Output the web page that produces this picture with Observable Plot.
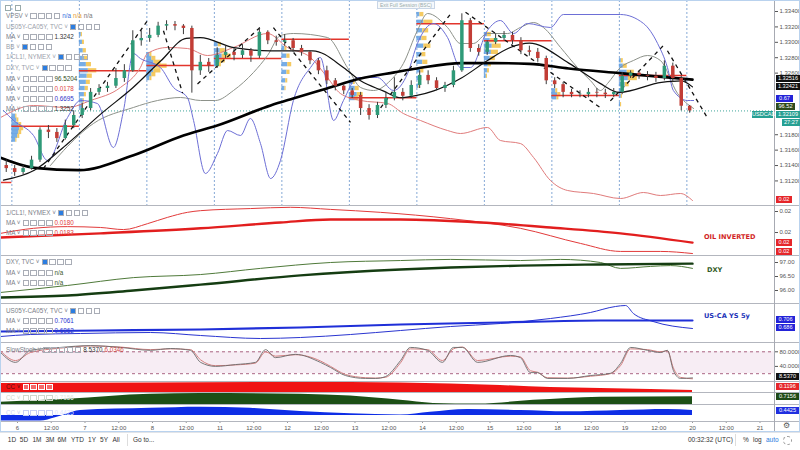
<!DOCTYPE html>
<html><head><meta charset="utf-8">
<script src="https://cdn.jsdelivr.net/npm/d3@7"></script>
<script src="https://cdn.jsdelivr.net/npm/@observablehq/plot@0.6"></script>
<style>
body{margin:0;background:#fff;}
#wrap{position:relative;width:800px;height:450px;overflow:hidden;background:#fff;font-family:"Liberation Sans",Arial,sans-serif;}
</style></head><body><div id="wrap"></div>
<script>
// ---------------- DATA ----------------
// x unit: trading hours since 6 Mar 00:00 UTC (weekends removed)
const dayHours = [0,24,48,72,96,120,144,168,192,216,240,264];
const dayLabels = ["6","7","8","11","12","13","14","15","18","19","20","21"];
const halfDayHours = [12,36,60,84,108,132,156,180,204,228,252];
const sessionHours = [-2,22,46,70,94,118,142,166,190,214,238];

// USDCAD 3-hour candles
const candleStartHour = -4, candleStepHours = 3;
const opens = [1.3140,1.3136,1.3131,1.3136,1.3147,1.3186,1.3183,1.3175,1.3192,1.3205,
 1.3214,1.3235,1.3240,1.3243,1.3253,1.3263,1.3302,1.3305,1.3309,1.3321,
 1.3323,1.3321,1.3318,1.3263,1.3274,1.3269,1.3283,1.3287,1.3283,1.3289,
 1.3282,1.3313,1.3302,1.3300,1.3302,1.3292,1.3287,1.3276,1.3263,1.3250,
 1.3243,1.3237,1.3231,1.3214,1.3205,1.3218,1.3227,1.3235,1.3230,1.3244,
 1.3257,1.3250,1.3240,1.3244,1.3263,1.3328,1.3292,1.3287,1.3300,1.3305,
 1.3309,1.3302,1.3289,1.3287,1.3279,1.3250,1.3245,1.3235,1.3232,1.3232,
 1.3235,1.3234,1.3232,1.3235,1.3256,1.3260,1.3257,1.3256,1.3253,1.3269,
 1.3253,1.3217];
const closes = [1.3136,1.3131,1.3136,1.3147,1.3186,1.3183,1.3175,1.3192,1.3205,1.3214,
 1.3235,1.3240,1.3243,1.3253,1.3263,1.3302,1.3305,1.3309,1.3321,1.3323,
 1.3321,1.3318,1.3263,1.3274,1.3269,1.3283,1.3287,1.3283,1.3289,1.3282,
 1.3313,1.3302,1.3300,1.3302,1.3292,1.3287,1.3276,1.3263,1.3250,1.3243,
 1.3237,1.3231,1.3214,1.3205,1.3218,1.3227,1.3235,1.3230,1.3244,1.3257,
 1.3250,1.3240,1.3244,1.3263,1.3328,1.3292,1.3287,1.3300,1.3305,1.3309,
 1.3302,1.3289,1.3287,1.3279,1.3250,1.3245,1.3235,1.3232,1.3232,1.3235,
 1.3234,1.3232,1.3235,1.3256,1.3260,1.3257,1.3256,1.3253,1.3269,1.3253,
 1.3217,1.32109];
const highs = [1.3147,1.3140,1.3140,1.3152,1.3189,1.3192,1.3188,1.3199,1.3211,1.3221,
 1.3240,1.3245,1.3248,1.3266,1.3271,1.3315,1.3315,1.3318,1.3326,1.3328,
 1.3327,1.3323,1.3321,1.3283,1.3279,1.3293,1.3295,1.3292,1.3297,1.3292,
 1.3319,1.3315,1.3308,1.3310,1.3305,1.3296,1.3289,1.3279,1.3269,1.3253,
 1.3245,1.3240,1.3235,1.3219,1.3222,1.3235,1.3254,1.3240,1.3250,1.3263,
 1.3263,1.3254,1.3248,1.3269,1.3337,1.3331,1.3297,1.3302,1.3311,1.3314,
 1.3313,1.3306,1.3295,1.3292,1.3282,1.3254,1.3248,1.3239,1.3237,1.3240,
 1.3240,1.3239,1.3240,1.3261,1.3263,1.3263,1.3262,1.3261,1.3276,1.3273,
 1.3256,1.3218];
const lows = [1.3131,1.3126,1.3128,1.3134,1.3144,1.3175,1.3170,1.3173,1.3188,1.3201,
 1.3211,1.3231,1.3235,1.3240,1.3248,1.3261,1.3295,1.3300,1.3306,1.3315,
 1.3315,1.3310,1.3234,1.3257,1.3261,1.3266,1.3279,1.3276,1.3279,1.3274,
 1.3279,1.3297,1.3295,1.3295,1.3287,1.3282,1.3271,1.3258,1.3245,1.3237,
 1.3232,1.3227,1.3205,1.3199,1.3201,1.3214,1.3224,1.3224,1.3227,1.3240,
 1.3245,1.3237,1.3235,1.3241,1.3261,1.3287,1.3282,1.3283,1.3297,1.3302,
 1.3297,1.3284,1.3282,1.3274,1.3245,1.3240,1.3228,1.3228,1.3228,1.3228,
 1.3228,1.3227,1.3228,1.3232,1.3253,1.3252,1.3250,1.3248,1.3250,1.3248,
 1.3211,1.3208];

// moving averages on price
const maSlowH = [-6,6,22,41,59,71,90,98,110,122,134,142,158,169,182,196,214,240];
const maSlowP = [1.3150,1.3137,1.3134,1.3153,1.3179,1.3192,1.3218,1.3227,1.3240,1.3253,1.3261,1.3266,1.3273,1.3273,1.3272,1.3266,1.3260,1.32516];
const maFastH = [-5,6,18,30,41,51,60,65,77,90,105,116,122,130,136,142,148,158,167,175,182,196,207,214,229,236,240];
const maFastP = [1.3121,1.3134,1.3169,1.3208,1.3241,1.3276,1.3305,1.3306,1.3293,1.3289,1.3289,1.3267,1.3250,1.3237,1.3228,1.3231,1.3237,1.3254,1.3276,1.3293,1.3299,1.3273,1.3247,1.3235,1.3248,1.3250,1.32421];

// volume profile per session
const vpSessionHours = [-2,22,46,70,94,118,142,166,190,214];
const vpPrices = [
 [1.3204,1.3199,1.3193,1.3188,1.3183,1.3178,1.3173],
 [1.3310,1.3300,1.3289,1.3279,1.3271,1.3263,1.3256,1.3248,1.3240,1.3232,1.3224,1.3217],
 [1.3284,1.3279,1.3274,1.3269,1.3263,1.3258,1.3253],
 [1.3297,1.3289,1.3282,1.3276,1.3271],
 [1.3292,1.3282,1.3271,1.3261,1.3250,1.3240],
 [1.3248,1.3240,1.3232,1.3227],
 [1.3336,1.3326,1.3315,1.3305,1.3295,1.3284,1.3274,1.3263,1.3253,1.3243],
 [1.3310,1.3302,1.3295,1.3287,1.3279,1.3271,1.3263,1.3256],
 [1.3237,1.3232,1.3228],
 [1.3276,1.3269,1.3261,1.3253,1.3245,1.3237,1.3230,1.3219]];
const vpBlue = [
 [1.4,1.8,2.5,2.8,2.5,2.1,1.4],
 [0.7,1.1,1.4,1.8,2.5,3.2,2.8,2.5,2.1,1.8,1.4,1.1],
 [1.1,1.8,2.5,3.2,2.5,1.8,1.1],
 [1.4,2.1,2.8,2.1,1.4],
 [1.1,1.8,2.1,1.8,1.4,1.1],
 [1.4,2.1,2.8,2.1],
 [1.1,2.5,2.1,1.8,2.5,1.8,2.1,1.4,1.1,0.7],
 [1.1,2.1,2.8,2.5,2.1,1.4,1.1,0.7],
 [1.4,2.1,1.8],
 [0.7,1.4,2.8,3.2,2.1,1.1,0.7,0.4]];
const vpYellow = [
 [0.4,0.7,1.0,1.4,1.0,0.7,0.4],
 [0.4,0.7,1.1,1.4,1.8,3.0,1.8,1.4,1.1,0.7,0.4,0.4],
 [0.7,1.4,2.5,4.0,2.5,1.4,0.7],
 [1.1,1.8,3.2,1.8,1.1],
 [0.7,1.1,1.4,1.1,0.7,0.4],
 [0.7,1.4,2.1,1.1],
 [1.4,3.2,2.1,1.8,2.5,1.4,1.8,1.1,0.7,0.4],
 [1.4,2.5,3.2,2.5,1.8,1.1,0.7,0.4],
 [0.7,1.1,0.7],
 [0.7,1.4,2.5,3.2,1.4,0.7,0.4,0.4]];
const pocH1 = [-6,-2,22,46,70,94,118,142,166,190,214];
const pocH2 = [-2,22,46,70,94,118,142,166,190,214,238];
const pocPrice = [1.3118,1.3191,1.3263,1.3270,1.3279,1.3304,1.3228,1.3324,1.3302,1.3231,1.3257];

// zigzag dashed swings
const zigH1 = [9.2,51.9,64,91,129.1,159.3,210.8,231.1];
const zigP1 = [1.3136,1.3315,1.3246,1.3319,1.3215,1.3339,1.3224,1.3289];
const zigH2 = [46.2,58.7,87.1,118.4,154,207.3,229.7,245.3];
const zigP2 = [1.3328,1.3234,1.3322,1.3196,1.3337,1.3215,1.3296,1.3202];

// overlays on the price pane
const dxyOvH = [11.7,16.4,27,41.2,49.8,58,65.1,70.4,76.8,83.9,88.9,93.5,98.1,110.2,117.3,122,126.6,132.6,137.2,142.2,145.8,152.9,157.5,162.1,167.1,174.2,178.8,183.5,187,193.1,199.1,203.7,207.3,209.8,214.4,219,224,228.6,234.7,240.4];
const dxyOvV = [96.225,96.30,96.435,96.515,96.55,96.565,96.55,96.55,96.60,96.69,96.775,96.875,96.885,96.865,96.715,96.615,96.60,96.65,96.735,96.90,96.985,96.915,96.835,96.835,96.885,96.885,96.915,96.94,96.915,96.815,96.715,96.65,96.60,96.635,96.715,96.75,96.775,96.75,96.585,96.51];
const oilOvH = [-6,5.7,17.8,26,36.6,43.7,46.2,53.3,60.4,67.6,76.8,88.9,96,104.2,110.2,114.8,122,131.6,137.2,143.3,152.9,157.5,167.1,171.7,178.8,183.5,189.5,195.6,204.8,214.4,222.6,228.6,235.7,240];
const oilOvV = [0.018298,0.01837,0.018358,0.0184,0.018478,0.018598,0.018682,0.018718,0.018712,0.01867,0.018718,0.018802,0.018718,0.018658,0.018538,0.018442,0.0184,0.018382,0.018322,0.01828,0.01822,0.018202,0.018238,0.01816,0.018142,0.018058,0.01792,0.01786,0.017842,0.017812,0.017848,0.01783,0.017842,0.0178];
const spreadOvH = [-5,-1.4,5.7,10.7,17.8,22.4,28.4,34.1,37.7,41.2,43.7,50.8,55.5,60.4,62.6,66.8,71.1,74.7,79.3,82.8,86.4,90,93.5,98.1,104.2,107.7,112.4,115.9,120.9,128,133.7,138.7,142.2,147.9,152.9,157.5,161.1,167.1,171.7,176.4,181.3,189.5,194.1,214.4,222.6,227.6,231.1,233.2,238.2,240.4];
const spreadOvV = [0.656,0.642,0.621,0.586,0.6462,0.67,0.6658,0.6042,0.656,0.7358,0.7288,0.7162,0.6882,0.6742,0.642,0.5678,0.5958,0.628,0.621,0.6448,0.6098,0.5608,0.586,0.67,0.7162,0.7302,0.642,0.67,0.7022,0.7022,0.684,0.7078,0.7498,0.7778,0.7582,0.7162,0.7162,0.768,0.782,0.7638,0.7778,0.7722,0.7904,0.7904,0.7778,0.7498,0.7162,0.684,0.67,0.67];

// 1/CL1! pane
const oilFastH = [-6,5.7,17.8,29.5,37.7,46.2,53.3,60.4,65.1,82.8,97.1,111.3,129.1,154,178.8,200.2,214.4,228.6,240];
const oilFastV = [0.01848,0.01860,0.01864,0.01862,0.01857,0.01871,0.01886,0.01898,0.01902,0.01907,0.01910,0.01905,0.01898,0.01883,0.01860,0.01824,0.01805,0.01805,0.01800];
const oilSlowH = [-6,29.5,65.1,93.5,111.3,136.2,164.6,189.5,214.4,240];
const oilSlowV = [0.01838,0.01848,0.01860,0.01874,0.01881,0.01881,0.01874,0.01862,0.01848,0.01826];
// DXY pane
const dxySlowH = [-6,17.8,41.2,65.1,100.6,136.2,154,178.8,207.3,240];
const dxySlowV = [95.75,95.82,96.00,96.21,96.54,96.75,96.82,96.89,96.93,96.96];
const dxyFastH = [-6,17.8,41.2,65.1,86.4,111.3,136.2,154,178.8,193.1,207.3,214.4,225.1,232.2,240];
const dxyFastV = [95.93,96.18,96.46,96.57,96.79,97.00,97.07,97.11,97.07,97.11,97.00,96.79,96.86,96.89,96.79];
// US-CA 5y spread pane
const usSlowH = [-6,29.5,65.1,100.6,136.2,171.7,207.3,240];
const usSlowV = [0.6785,0.681,0.6835,0.6885,0.696,0.701,0.706,0.706];
const usFastH = [-6,4.6,22.4,47.3,65.1,86.4,100.6,118.4,136.2,154,171.7,189.5,203.7,212.6,216.2,219,226,240];
const usFastV = [0.666,0.671,0.6735,0.676,0.6685,0.661,0.6635,0.671,0.681,0.691,0.6985,0.711,0.726,0.741,0.7435,0.7235,0.7035,0.686];
// Slow stochastic
const stochH = [-6,-0.7,4.6,15.3,26,36.6,47.3,54.4,61.5,65.1,70.4,77.5,84.6,88.2,91.7,98.8,107.7,111.3,116.6,123.7,127.3,130.8,136.2,139.7,145.8,151.1,155,158.2,163.6,175.3,178.8,182.4,184.9,188.4,195.6,203.7,210.8,214.4,218,224,228.6,231.1,233.2,235.7,240];
const stochK = [78,51,84,92,97,92,84,89,84,51,40,45,51,86,64,73,51,37,15,7,7,12,56,92,84,51,92,92,51,70,64,23,23,7,7,15,21,48,92,84,78,84,29,7,8.5];
const stochD = [82,56,78,90,96,93,86,88,86,58,42,44,49,80,68,72,55,40,18,9,8,10,50,88,86,56,88,93,56,68,66,28,24,9,8,13,20,42,88,86,80,83,36,10,6.0];
// Correlation coefficients
const ccOilH = [-6,47.3,100.6,136.2,154,171.7,189.5,207.3,225.1,240];
const ccOilV = [0.54,0.57,0.60,0.57,0.51,0.42,0.30,0.24,0.18,0.1196];
const ccDxyH = [-6,17.8,47.3,65.1,100.6,118.4,136.2,147.9,163.6,183.5,207.3,240];
const ccDxyV = [0.2,0.48,0.95,1.0,0.95,0.77,0.38,0.1,0.05,0.38,0.67,0.7156];
const ccUsH = [-6,8.2,13.5,17.1,22.4,47.3,65.1,82.8,100.6,118.4,136.2,146.8,160,178.8,195.6,214.4,231.1,240];
const ccUsV = [-0.5,-0.5,-0.2,0.1,0.45,0.65,0.75,0.65,0.35,0.15,0.05,0.3,0.55,0.45,0.33,0.45,0.55,0.4425];

const mainTicks = [1.334,1.332,1.330,1.328,1.326,1.318,1.316,1.314,1.312];

// ---------------- DRAW ----------------
const FONT = '"Liberation Sans", Arial, sans-serif';
const X_DOMAIN = [-6.04, 269.16];
const RIGHT = 26;
const wrap = document.getElementById("wrap");
const rows = (h, v) => h.map((x, i) => ({h: x, v: v[i]}));
const UP = "#2f9a78", DOWN = "#c23d36";

function addPlot(top, height, y, marks) {
  const svg = Plot.plot({
    width: 800, height, marginLeft: 0, marginRight: RIGHT, marginTop: 0, marginBottom: 0,
    x: {domain: X_DOMAIN, axis: null},
    y: y,
    style: {background: "transparent", fontFamily: FONT, fontSize: "6px", color: "#4a4a4a", overflow: "visible"},
    marks
  });
  svg.style.position = "absolute"; svg.style.left = "0px"; svg.style.top = top + "px";
  wrap.appendChild(svg);
  return svg;
}
const axisR = (ticks, fmt) => Plot.axisY({ticks, tickFormat: fmt, anchor: "right", tickSize: 3, tickPadding: 2, fontSize: 6, color: "#555", label: null});

const MAIN = [1.30881, 1.33543];
const candles = closes.map((c, i) => ({h: candleStartHour + candleStepHours * i, open: opens[i], close: c, high: highs[i], low: lows[i]}));
const vp = vpSessionHours.flatMap((h, s) => vpPrices[s].map((p, j) => ({h, p, b: vpBlue[s][j], yl: vpYellow[s][j]})));
const poc = pocPrice.map((p, i) => ({p, h1: pocH1[i], h2: pocH2[i]}));
const zig = zigH1.map((h, i) => ({h1: h, p1: zigP1[i], h2: zigH2[i], p2: zigP2[i]}));
const last = closes[closes.length - 1];

// main base layer
const mainBase = addPlot(0, 205, {domain: MAIN, axis: null}, [
  Plot.ruleX(sessionHours, {stroke: "#86a9d6", strokeDasharray: "2,2", strokeWidth: 1}),
  Plot.rect(vp, {x1: "h", x2: d => d.h + d.b, y1: d => d.p - 0.00028, y2: d => d.p + 0.00028, fill: "#5f9fe2", fillOpacity: 0.85}),
  Plot.rect(vp, {x1: d => d.h + d.b, x2: d => d.h + d.b + d.yl, y1: d => d.p - 0.00028, y2: d => d.p + 0.00028, fill: "#f4c450", fillOpacity: 0.9}),
  Plot.ruleY(poc, {y: "p", x1: "h1", x2: "h2", stroke: "#e2352c", strokeWidth: 1.5}),
  Plot.ruleY([last], {stroke: "#3fa59a", strokeDasharray: "1,2", strokeWidth: 1})
]);
// overlays with their own scales
addPlot(0, 205, {domain: [96.025, 97.05], axis: null}, [
  Plot.line(rows(dxyOvH, dxyOvV), {x: "h", y: "v", stroke: "#8d928a", strokeWidth: 1, curve: "monotone-x"})]);
addPlot(0, 205, {domain: [0.01777, 0.0190], axis: null}, [
  Plot.line(rows(oilOvH, oilOvV), {x: "h", y: "v", stroke: "#e07b7b", strokeWidth: 1, curve: "monotone-x"})]);
addPlot(0, 205, {domain: [0.523, 0.81], axis: null}, [
  Plot.line(rows(spreadOvH, spreadOvV), {x: "h", y: "v", stroke: "#6d6fd6", strokeWidth: 1, curve: "monotone-x"})]);
// main top layer
const mainTop = addPlot(0, 205, {domain: MAIN}, [
  Plot.line(rows(maSlowH, maSlowP), {x: "h", y: "v", stroke: "#000", strokeWidth: 2.6, curve: "monotone-x"}),
  Plot.line(rows(maFastH, maFastP), {x: "h", y: "v", stroke: "#111", strokeWidth: 1.2, curve: "monotone-x"}),
  Plot.link(zig, {x1: "h1", y1: "p1", x2: "h2", y2: "p2", stroke: "#111", strokeWidth: 1.3, strokeDasharray: "4,4"}),
  Plot.ruleX(candles, {x: "h", y1: "low", y2: "high", stroke: "#3b3b3b", strokeWidth: 1}),
  Plot.ruleX(candles, {x: "h", y1: "open", y2: d => d.close === d.open ? d.close + 0.00006 : d.close, stroke: d => d.close >= d.open ? UP : DOWN, strokeWidth: 3.5}),
  axisR(mainTicks, d3.format(".5f"))
]);

// oil pane
addPlot(205, 50, {domain: [0.017953, 0.019143]}, [
  Plot.line(rows(oilFastH, oilFastV), {x: "h", y: "v", stroke: "#e23a3a", strokeWidth: 1, curve: "monotone-x"}),
  Plot.line(rows(oilSlowH, oilSlowV), {x: "h", y: "v", stroke: "#e21e1e", strokeWidth: 2.4, curve: "monotone-x"}),
  axisR([0.0185, 0.0190], d3.format(".2f"))
]);
// DXY pane
addPlot(255, 48, {domain: [95.536, 97.25]}, [
  Plot.line(rows(dxyFastH, dxyFastV), {x: "h", y: "v", stroke: "#4f7a3a", strokeWidth: 1, curve: "monotone-x"}),
  Plot.line(rows(dxySlowH, dxySlowV), {x: "h", y: "v", stroke: "#153d12", strokeWidth: 2.4, curve: "monotone-x"}),
  axisR([96, 96.5, 97], d3.format(".2f"))
]);
// US-CA pane
addPlot(303, 39, {domain: [0.651, 0.7485], axis: null}, [
  Plot.line(rows(usFastH, usFastV), {x: "h", y: "v", stroke: "#2a35d0", strokeWidth: 1, curve: "monotone-x"}),
  Plot.line(rows(usSlowH, usSlowV), {x: "h", y: "v", stroke: "#1f2fd8", strokeWidth: 2.2, curve: "monotone-x"})
]);
// Stochastic pane
addPlot(342, 39, {domain: [-1.4, 105.5]}, [
  Plot.rect([0], {x1: () => X_DOMAIN[0], x2: () => X_DOMAIN[1], y1: () => 20, y2: () => 80, fill: "#f7edf4"}),
  Plot.ruleY([20, 80], {stroke: "#a05575", strokeDasharray: "3,3", strokeWidth: 0.9}),
  Plot.line(rows(stochH, stochD), {x: "h", y: "v", stroke: "#d48080", strokeWidth: 1, curve: "monotone-x"}),
  Plot.line(rows(stochH, stochK), {x: "h", y: "v", stroke: "#6b6b6b", strokeWidth: 0.9, curve: "monotone-x"}),
  axisR([40, 80], d3.format(".4f"))
]);
// CC panes
addPlot(381, 11, {domain: [0, 0.66], axis: null}, [
  Plot.areaY(rows(ccOilH, ccOilV), {x: "h", y1: 0, y2: "v", fill: "#f01414", curve: "monotone-x"})]);
addPlot(392, 12, {domain: [0, 1.1], axis: null}, [
  Plot.areaY(rows(ccDxyH, ccDxyV), {x: "h", y1: 0, y2: "v", fill: "#1c4f16", curve: "monotone-x"})]);
addPlot(404, 17, {domain: [-0.54, 0.99], axis: null}, [
  Plot.areaY(rows(ccUsH, ccUsV), {x: "h", y1: 0, y2: "v", fill: "#0e2ee6", curve: "monotone-x"})]);
// time axis
const timeTicks = dayHours.map((h, i) => ({h, label: dayLabels[i]})).concat(halfDayHours.map(h => ({h, label: "12:00"})));
(function(){
  const svg = Plot.plot({width: 800, height: 11, marginLeft: 0, marginRight: RIGHT, marginTop: 0, marginBottom: 0,
    x: {domain: X_DOMAIN, axis: null},
    style: {background: "transparent", fontFamily: FONT, overflow: "visible"},
    marks: [
      Plot.tickX(timeTicks, {x: "h", stroke: "#999", insetBottom: 9}),
      Plot.text(timeTicks, {x: "h", text: "label", frameAnchor: "middle", dy: 1, fill: "#555", fontSize: 6})
    ]});
  svg.style.position = "absolute"; svg.style.left = "0px"; svg.style.top = "421px";
  wrap.appendChild(svg);
})();

// ---------------- FRAME / SEPARATORS ----------------
function box(css) { const d = document.createElement("div"); d.style.cssText = "position:absolute;" + css; wrap.appendChild(d); return d; }
[205, 255, 303, 342, 381, 392, 404, 421].forEach(y => box(`left:0;top:${y}px;width:800px;height:1px;background:#b3b6be;`));
box("left:774px;top:0;width:1px;height:432px;background:#a7aab2;");
box("left:0;top:0;width:798px;height:430px;border:1px solid #b9d2ee;");
box("left:0;top:432px;width:800px;height:1px;background:#e2e4e8;");

function el(html, css) { const d = document.createElement("div"); d.innerHTML = html; d.style.cssText = "position:absolute;white-space:nowrap;" + css; wrap.appendChild(d); return d; }

// legends
function legend(y, parts, color = "#7a7e88", x = 6) {
  let html = "";
  for (const p of parts) {
    if (p.icons) {
      html += `<span style="display:inline-flex;gap:1.5px;margin:0 2px;vertical-align:middle;">`;
      for (let i = 0; i < p.icons; i++) {
        const bg = (i === 0 && p.blue) ? "#2b7de0" : (p.bg || "transparent");
        html += `<span style="display:inline-block;width:4.4px;height:4.4px;border:0.8px solid ${p.border || "#a9adb6"};background:${bg};"></span>`;
      }
      html += `</span>`;
    } else {
      html += `<span style="color:${p.c || color};${p.ml ? "margin-left:" + p.ml + "px;" : ""}">${p.t}</span>`;
    }
  }
  el(html, `left:${x}px;top:${y - 4.5}px;height:9px;line-height:9px;font:6.3px ${FONT};color:${color};`);
}
const V = " ˅";
el(`<span style="display:inline-block;width:4px;height:4px;border:0.8px solid #9aa;margin-right:4px"></span><span style="display:inline-block;width:4px;height:4px;border:0.8px solid #9aa"></span>`, "left:5px;top:3px;line-height:6px;");
legend(16, [{t: "VPSV" + V}, {icons: 4}, {t: "n/a", c: "#3b6fdc"}, {t: "n/a", c: "#e6a23a", ml: 2}, {t: "n/a", c: "#777", ml: 2}]);
legend(27, [{t: "US05Y-CA05Y, TVC" + V}, {icons: 4, blue: true}], "#9aa0aa");
legend(37, [{t: "MA" + V}, {icons: 4}, {t: "1.3242", c: "#333"}]);
legend(47, [{t: "BB" + V}, {icons: 4, blue: true}], "#9aa0aa");
legend(57, [{t: "1/CL1!, NYMEX" + V}, {icons: 4, blue: true}], "#9aa0aa");
legend(68, [{t: "DXY, TVC" + V}, {icons: 4, blue: true}], "#9aa0aa");
legend(79, [{t: "MA" + V}, {icons: 4}, {t: "96.5204", c: "#2f4a22"}]);
legend(89, [{t: "MA" + V}, {icons: 4}, {t: "0.0178", c: "#e04545"}]);
legend(99, [{t: "MA" + V}, {icons: 4}, {t: "0.6695", c: "#3333c8"}]);
legend(109, [{t: "MA" + V}, {icons: 4}, {t: "1.3252", c: "#333"}]);
legend(213, [{t: "1/CL1!, NYMEX" + V}, {icons: 4, blue: true}]);
legend(223, [{t: "MA" + V}, {icons: 4}, {t: "0.0180", c: "#e23a3a"}]);
legend(233, [{t: "MA" + V}, {icons: 4}, {t: "0.0183", c: "#e23a3a"}]);
legend(262, [{t: "DXY, TVC" + V}, {icons: 4, blue: true}]);
legend(273, [{t: "MA" + V}, {icons: 4}, {t: "n/a", c: "#3d5a2a"}]);
legend(283, [{t: "MA" + V}, {icons: 4}, {t: "n/a", c: "#3d5a2a"}]);
legend(311, [{t: "US05Y-CA05Y, TVC" + V}, {icons: 4, blue: true}]);
legend(321, [{t: "MA" + V}, {icons: 4}, {t: "0.7061", c: "#2a35d0"}]);
legend(331, [{t: "MA" + V}, {icons: 4}, {t: "0.6862", c: "#2a35d0"}]);
legend(350, [{t: "SlowStoch" + V}, {icons: 5}, {t: "8.5370", c: "#333"}, {t: "6.0346", c: "#d04545", ml: 2}]);
legend(387, [{t: "CC" + V}, {icons: 4, border: "#fff", bg: "#f46a6a"}], "#5a1010");
legend(398, [{t: "CC" + V}, {icons: 4, border: "#cfd8cc"}, {t: "0.7156", c: "#dfe8dc"}], "#cfd8cc");
legend(413, [{t: "CC" + V}, {icons: 4, border: "#c7cff5"}, {t: "0.4425", c: "#dfe4ff"}], "#c7cff5");

// session marker label
el("Exit Full Session (BSC)", `left:377px;top:1px;font:5px ${FONT};color:#9aa;border:0.6px solid #c9d6e6;padding:0 2px;background:#f6f9fc;line-height:6px;`);

// pane titles
el("OIL INVERTED", `left:704px;top:233px;font:bold 6.6px "DejaVu Sans",sans-serif;color:#d21f26;`);
el("DXY", `left:707px;top:266px;font:bold 6.6px "DejaVu Sans",sans-serif;color:#2f5a1e;`);
el("US-CA YS 5y", `left:704px;top:312px;font:bold 6.6px "DejaVu Sans",sans-serif;color:#2031b8;`);

// right-edge value labels
const yMain = mainTop.scale("y");
function tag(y, text, bg, x = 776, w = 24) {
  el(text, `left:${x}px;top:${y - 3.6}px;width:${w}px;height:7px;line-height:7px;background:${bg};color:#fff;font:5.6px ${FONT};text-align:center;`);
}
tag(yMain.apply(1.32516), "1.32516", "#111");
tag(yMain.apply(1.32421), "1.32421", "#111");
tag(99, "0.67", "#2323d8", 776, 17);
tag(107, "96.52", "#2e4a1c", 776, 19);
tag(yMain.apply(last) + 4.6, "1.32109", "#26a093");
tag(yMain.apply(last) + 4.6, "USDCAD", "#26a093", 752, 21);
tag(123, "27:27", "#26a093", 782, 18);
tag(200, "0.02", "#e5262a", 776, 16);
tag(243, "0.02", "#e5262a", 776, 16);
tag(252, "0.02", "#e5262a", 776, 16);
tag(320, "0.706", "#2323d8", 776, 19);
tag(328, "0.686", "#2323d8", 776, 19);
tag(377, "8.5370", "#111", 776, 23);
tag(387, "0.1196", "#e5262a", 776, 23);
tag(397, "0.7156", "#1e4a16", 776, 23);
tag(411, "0.4425", "#1f2fe0", 776, 23);

// bottom toolbar
const tb = [["1D",12],["5D",24],["1M",37],["3M",50],["6M",62],["YTD",77],["1Y",92],["5Y",104],["All",116]];
tb.forEach(([t, x]) => el(t, `left:${x - 6}px;width:12px;text-align:center;top:436px;font:6.5px ${FONT};color:#333;`));
box("left:127px;top:434px;width:1px;height:12px;background:#ddd;");
el("Go to...", `left:133px;top:436px;font:6.5px ${FONT};color:#333;`);
el("00:32:32 (UTC)", `left:688px;top:436px;font:6.5px ${FONT};color:#333;`);
box("left:735px;top:434px;width:1px;height:12px;background:#ddd;");
el("%", `left:743px;top:436px;font:6.5px ${FONT};color:#333;`);
el("log", `left:753px;top:436px;font:6.5px ${FONT};color:#333;`);
el("auto", `left:766px;top:436px;font:6.5px ${FONT};color:#2b7de0;`);
box("left:783px;top:436px;width:7px;height:7px;border:1px dashed #999;border-radius:50%;");
el("⚙", `left:783px;top:421px;font:8px "DejaVu Sans",sans-serif;color:#555;`);
</script></body></html>
